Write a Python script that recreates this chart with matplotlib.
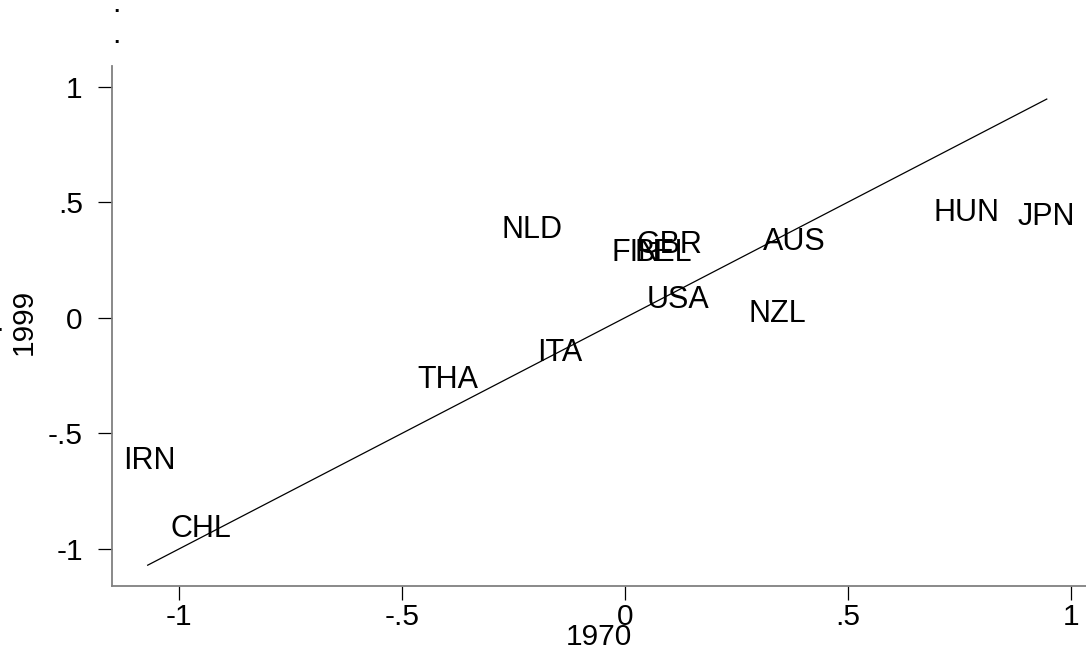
import matplotlib
matplotlib.use("Agg")
import matplotlib.pyplot as plt

plt.rcParams['font.family'] = ['Liberation Sans', 'DejaVu Sans']

countries = ["NLD", "FIN", "BEL", "GBR", "USA", "AUS", "NZL", "HUN", "JPN",
             "ITA", "THA", "IRN", "CHL"]
x1970 = [-0.276, -0.030, 0.022, 0.025, 0.049, 0.309, 0.278, 0.691, 0.881,
         -0.197, -0.466, -1.126, -1.018]
y1999 = [0.379, 0.280, 0.280, 0.315, 0.077, 0.328, 0.016, 0.453, 0.436,
         -0.152, -0.269, -0.618, -0.914]
line_ends = [-1.07, 0.946]
xticks = [-1, -0.5, 0, 0.5, 1]
xticklabels = ["-1", "-.5", "0", ".5", "1"]
yticks = [-1, -0.5, 0, 0.5, 1]
yticklabels = ["-1", "-.5", "0", ".5", "1"]

fig = plt.figure(figsize=(10.86, 6.62), dpi=100)
ax = fig.add_axes([112/1086, 1-586/662, 1-112/1086, (586-66)/662])

ax.plot(line_ends, line_ends, color="black", lw=0.9)
for c, x, y in zip(countries, x1970, y1999):
    ax.text(x, y, c, ha="left", va="center", fontsize=22, color="black")

ax.set_xlim(-1.150, 1.034)
ax.set_ylim(-1.160, 1.089)
ax.set_xticks(xticks)
ax.set_xticklabels(xticklabels)
ax.set_yticks(yticks)
ax.set_yticklabels(yticklabels)
ax.tick_params(axis="both", labelsize=21.5, length=10, width=0.9, color="black")
ax.tick_params(axis="x", pad=2)
ax.tick_params(axis="y", pad=11)
for s in ["top", "right"]:
    ax.spines[s].set_visible(False)
ax.spines["left"].set_color("#808080")
ax.spines["bottom"].set_color("#808080")
ax.spines["left"].set_linewidth(1.3)
ax.spines["bottom"].set_linewidth(1.3)

fig.text(599/1086, 1-637/662, "1970", fontsize=21.5, ha="center", va="center")
fig.text(24/1086, 1-322/662, "1999", fontsize=21.5, ha="center", va="center",
         rotation=90)

fig.text(116/1086, 1-12/662, ".", fontsize=21.5, ha="center", va="baseline")
fig.text(116/1086, 1-43/662, ".", fontsize=21.5, ha="center", va="baseline")
fig.text(-1/1086, 1-331/662, ".", fontsize=21.5, ha="center", va="baseline")

fig.savefig("out.png", dpi=100)
